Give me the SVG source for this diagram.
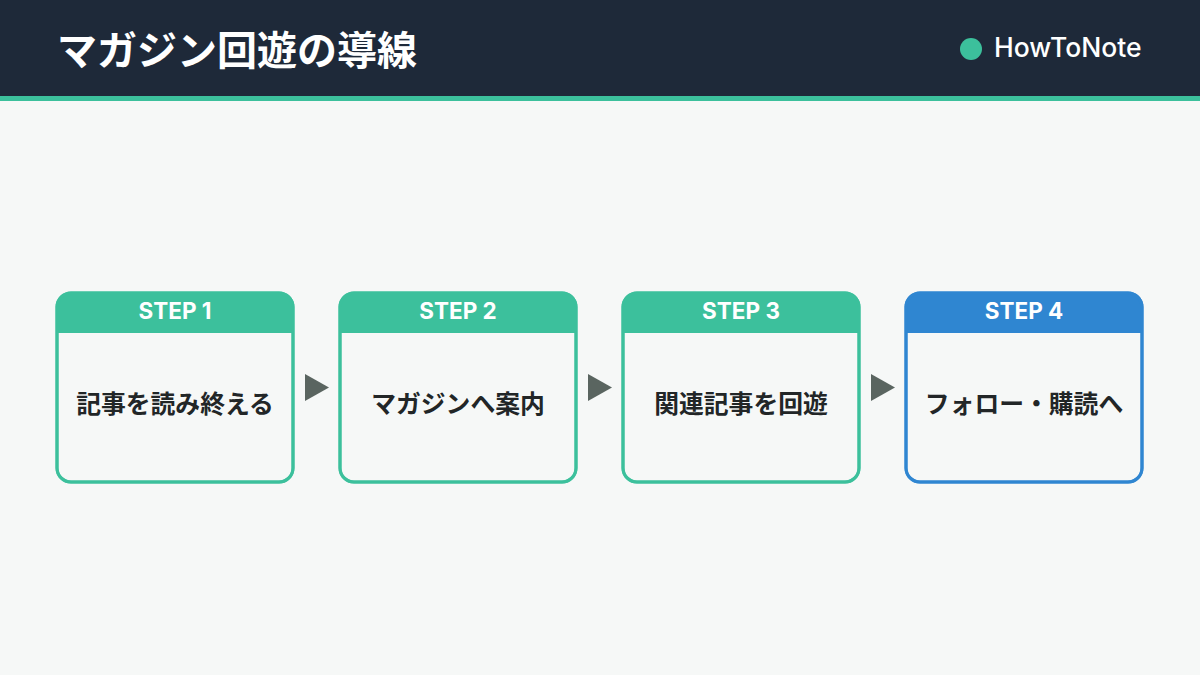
<svg xmlns="http://www.w3.org/2000/svg" width="1200" height="675" viewBox="0 0 1200 675">
<style>
.title{font-family:"Noto Sans CJK JP",sans-serif;font-weight:700;font-size:40px;fill:#ffffff}
.brand{font-family:Inter,"Noto Sans",sans-serif;font-weight:500;font-size:26.5px;fill:#ffffff}
.step{font-family:Inter,"Noto Sans",sans-serif;font-weight:700;font-size:22.5px;fill:#ffffff}
.body{font-family:"Noto Sans CJK JP",sans-serif;font-weight:600;font-size:24.8px;fill:#222627}
.box{fill:#f6f8f7;stroke-width:3}
.frame{fill:none;stroke-width:3}
.g{stroke:#3cc09c}
.b{stroke:#2f86d1}
.arrow{fill:#5a6560}
</style>
<defs>
<clipPath id="c1"><rect x="57" y="293" width="236" height="189" rx="14"/></clipPath>
<clipPath id="c2"><rect x="340" y="293" width="236" height="189" rx="14"/></clipPath>
<clipPath id="c3"><rect x="623" y="293" width="236" height="189" rx="14"/></clipPath>
<clipPath id="c4"><rect x="906" y="293" width="236" height="189" rx="14"/></clipPath>
</defs>
<rect width="1200" height="675" fill="#f6f8f7"/>
<g id="header">
<rect x="0" y="0" width="1200" height="96" fill="#1e2939"/>
<rect x="0" y="96" width="1200" height="5" fill="#3cc09c"/>
<text class="title" x="57" y="65">マガジン回遊の導線</text>
<circle cx="971" cy="49" r="11" fill="#3cc09c"/>
<text class="brand" x="994" y="57">HowToNote</text>
</g>
<g id="connectors">
<polygon class="arrow" points="305,374 329,387.5 305,401"/>
<polygon class="arrow" points="588,374 612,387.5 588,401"/>
<polygon class="arrow" points="871,374 895,387.5 871,401"/>
</g>
<g id="step1">
<rect class="box g" x="57" y="293" width="236" height="189" rx="14"/>
<rect x="57" y="293" width="236" height="40" fill="#3cc09c" clip-path="url(#c1)"/>
<rect class="frame g" x="57" y="293" width="236" height="189" rx="14"/>
<text class="step" x="175" y="319" text-anchor="middle">STEP 1</text>
<text class="body" x="175" y="413" text-anchor="middle">記事を読み終える</text>
</g>
<g id="step2">
<rect class="box g" x="340" y="293" width="236" height="189" rx="14"/>
<rect x="340" y="293" width="236" height="40" fill="#3cc09c" clip-path="url(#c2)"/>
<rect class="frame g" x="340" y="293" width="236" height="189" rx="14"/>
<text class="step" x="458" y="319" text-anchor="middle">STEP 2</text>
<text class="body" x="458" y="413" text-anchor="middle">マガジンへ案内</text>
</g>
<g id="step3">
<rect class="box g" x="623" y="293" width="236" height="189" rx="14"/>
<rect x="623" y="293" width="236" height="40" fill="#3cc09c" clip-path="url(#c3)"/>
<rect class="frame g" x="623" y="293" width="236" height="189" rx="14"/>
<text class="step" x="741" y="319" text-anchor="middle">STEP 3</text>
<text class="body" x="741" y="413" text-anchor="middle">関連記事を回遊</text>
</g>
<g id="step4">
<rect class="box b" x="906" y="293" width="236" height="189" rx="14"/>
<rect x="906" y="293" width="236" height="40" fill="#2f86d1" clip-path="url(#c4)"/>
<rect class="frame b" x="906" y="293" width="236" height="189" rx="14"/>
<text class="step" x="1024" y="319" text-anchor="middle">STEP 4</text>
<text class="body" x="1024" y="413" text-anchor="middle">フォロー・購読へ</text>
</g>
</svg>
